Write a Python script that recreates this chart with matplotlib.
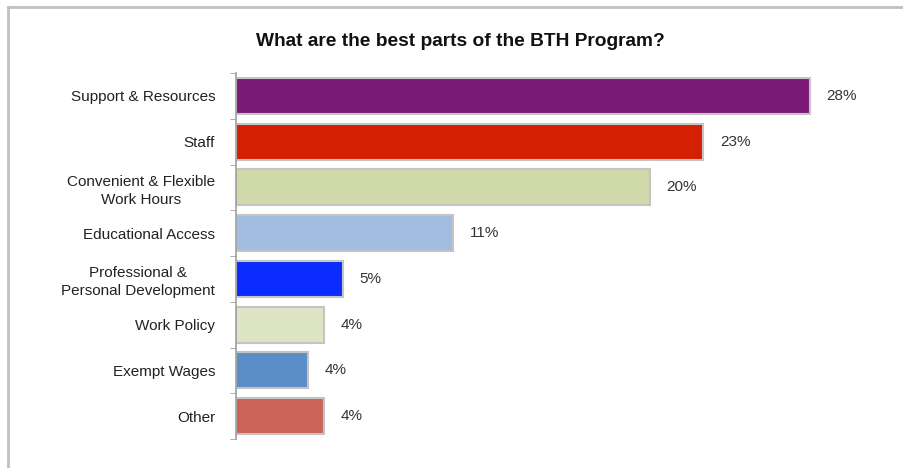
import matplotlib
matplotlib.use("Agg")
import matplotlib.pyplot as plt
from matplotlib.lines import Line2D

plt.rcParams['font.family'] = ['Liberation Sans', 'DejaVu Sans']

categories = ['Support & Resources', 'Staff', 'Convenient & Flexible\nWork Hours',
              'Educational Access', 'Professional &\nPersonal Development',
              'Work Policy', 'Exempt Wages', 'Other']
values = [28.0, 22.8, 20.2, 10.6, 5.2, 4.3, 3.5, 4.3]
colors = ['#7a1a76', '#d42000', '#cfd9aa', '#a3bde0', '#0a2cff',
          '#dde5c4', '#5b8ec6', '#cc6459']

fig = plt.figure(figsize=(9.04, 4.68), dpi=100)
ax = fig.add_axes([236 / 904, 1 - 439 / 468, (851 - 236) / 904, (439 - 73) / 468])

y = list(range(len(categories)))
bars = ax.barh(y, values, height=0.79, color=colors, edgecolor='#c4c4c4', linewidth=1.5)
ax.set_ylim(len(categories) - 0.5, -0.5)
ax.set_xlim(0, 30)

for b, v in zip(bars, values):
    ax.text(v + 0.8, b.get_y() + b.get_height() / 2, f'{v:.0f}%',
            va='center', ha='left', fontsize=11, color='#333333')

ax.set_yticks(y)
ax.set_yticklabels(categories, fontsize=11, color='#222222',
                   multialignment='center', linespacing=1.35)
ax.set_yticks([i - 0.5 for i in range(len(categories) + 1)], minor=True)
ax.tick_params(axis='y', which='major', length=0, pad=15)
ax.tick_params(axis='y', which='minor', length=4, color='#a0a0a0', direction='out')
ax.set_xticks([])

for s in ['top', 'right', 'bottom']:
    ax.spines[s].set_visible(False)
ax.spines['left'].set_color('#a0a0a0')
ax.spines['left'].set_linewidth(1.2)

fig.text(460 / 904, 1 - 42 / 468, 'What are the best parts of the BTH Program?',
         ha='center', va='center', fontsize=13.8, fontweight='bold', color='#111111')

# outer frame lines (top and left)
fig.add_artist(Line2D([8 / 904, 1], [1 - 7 / 468, 1 - 7 / 468], color='#c0c0c0', lw=2,
                      transform=fig.transFigure))
fig.add_artist(Line2D([8 / 904, 8 / 904], [0, 1 - 7 / 468], color='#c0c0c0', lw=2,
                      transform=fig.transFigure))

fig.savefig('out.png', dpi=100)
